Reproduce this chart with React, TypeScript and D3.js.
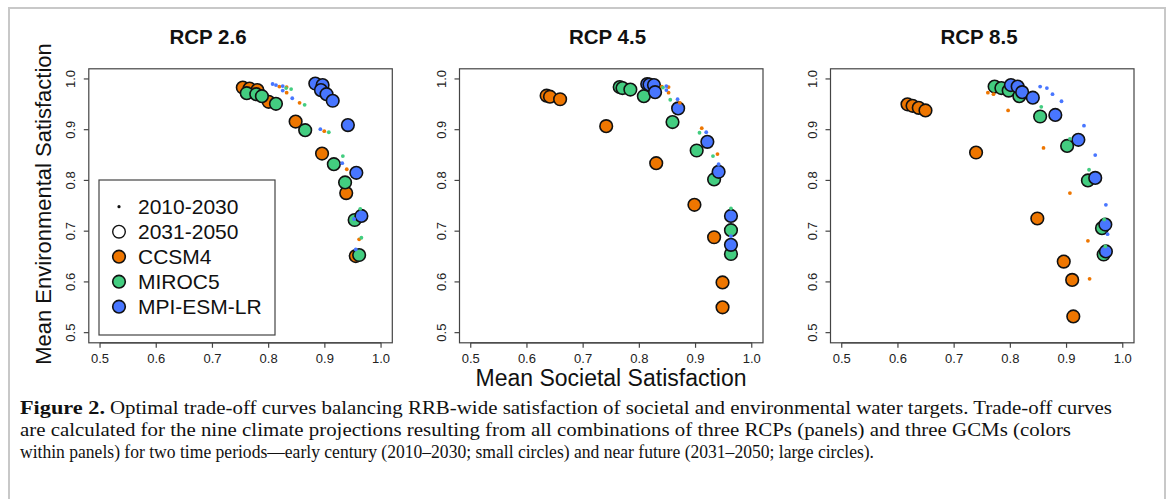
import React from "react";
import * as d3 from "d3";

// ---- Data (societal, environmental) ----
const gcms = ["CCSM4", "MIROC5", "MPI-ESM-LR"];
const periods = ["2010-2030", "2031-2050"];
const panelTitles = ["RCP 2.6", "RCP 4.5", "RCP 8.5"];
const tickValues = [0.5, 0.6, 0.7, 0.8, 0.9, 1.0];

// RCP 2.6
const rcp26_ccsm4_late = [[0.754,0.983],[0.766,0.981],[0.780,0.978],[0.800,0.955],[0.848,0.916],[0.895,0.853],[0.938,0.775],[0.955,0.651]];
const rcp26_miroc5_late = [[0.761,0.972],[0.778,0.970],[0.788,0.966],[0.813,0.951],[0.865,0.899],[0.916,0.832],[0.936,0.796],[0.953,0.722],[0.961,0.653]];
const rcp26_mpi_late = [[0.883,0.991],[0.896,0.988],[0.893,0.978],[0.903,0.970],[0.914,0.957],[0.941,0.909],[0.956,0.815],[0.965,0.730]];
const rcp26_ccsm4_early = [[0.819,0.985],[0.832,0.984],[0.832,0.973],[0.855,0.953],[0.899,0.897],[0.939,0.822],[0.961,0.684]];
const rcp26_miroc5_early = [[0.831,0.982],[0.840,0.980],[0.864,0.949],[0.907,0.895],[0.932,0.848],[0.963,0.744],[0.965,0.687]];
const rcp26_mpi_early = [[0.807,0.990],[0.813,0.988],[0.825,0.986],[0.825,0.977],[0.842,0.962],[0.892,0.901],[0.931,0.834],[0.952,0.724],[0.955,0.664]];

// RCP 4.5
const rcp45_ccsm4_late = [[0.635,0.967],[0.641,0.965],[0.659,0.960],[0.741,0.907],[0.830,0.834],[0.898,0.752],[0.933,0.688],[0.948,0.599],[0.948,0.550]];
const rcp45_miroc5_late = [[0.765,0.984],[0.770,0.982],[0.784,0.979],[0.808,0.966],[0.859,0.915],[0.902,0.859],[0.933,0.802],[0.963,0.702],[0.963,0.655]];
const rcp45_mpi_late = [[0.814,0.990],[0.818,0.989],[0.826,0.988],[0.828,0.974],[0.869,0.942],[0.921,0.876],[0.941,0.817],[0.963,0.730],[0.963,0.673]];
const rcp45_ccsm4_early = [[0.840,0.985],[0.852,0.984],[0.852,0.973],[0.872,0.953],[0.911,0.903],[0.939,0.852]];
const rcp45_miroc5_early = [[0.842,0.983],[0.855,0.959],[0.907,0.894],[0.931,0.848],[0.963,0.745]];
const rcp45_mpi_early = [[0.848,0.986],[0.848,0.978],[0.868,0.960],[0.919,0.895],[0.941,0.832],[0.963,0.690]];

// RCP 8.5
const rcp85_ccsm4_late = [[0.617,0.950],[0.626,0.947],[0.637,0.943],[0.649,0.938],[0.739,0.855],[0.848,0.725],[0.895,0.640],[0.910,0.604],[0.912,0.532]];
const rcp85_miroc5_late = [[0.772,0.985],[0.784,0.982],[0.797,0.977],[0.816,0.966],[0.853,0.926],[0.901,0.868],[0.938,0.800],[0.963,0.706],[0.966,0.654]];
const rcp85_mpi_late = [[0.801,0.988],[0.813,0.985],[0.821,0.974],[0.840,0.963],[0.880,0.929],[0.921,0.880],[0.951,0.805],[0.969,0.713],[0.970,0.660]];
const rcp85_ccsm4_early = [[0.760,0.973],[0.770,0.970],[0.796,0.938],[0.859,0.864],[0.906,0.775],[0.938,0.681],[0.941,0.606]];
const rcp85_miroc5_early = [[0.855,0.945],[0.906,0.882],[0.940,0.821],[0.967,0.723],[0.969,0.670]];
const rcp85_mpi_early = [[0.853,0.985],[0.865,0.982],[0.875,0.970],[0.891,0.956],[0.931,0.908],[0.951,0.850],[0.970,0.752],[0.973,0.694]];

const panelData = [
  { late: [rcp26_ccsm4_late, rcp26_miroc5_late, rcp26_mpi_late], early: [rcp26_ccsm4_early, rcp26_miroc5_early, rcp26_mpi_early] },
  { late: [rcp45_ccsm4_late, rcp45_miroc5_late, rcp45_mpi_late], early: [rcp45_ccsm4_early, rcp45_miroc5_early, rcp45_mpi_early] },
  { late: [rcp85_ccsm4_late, rcp85_miroc5_late, rcp85_mpi_late], early: [rcp85_ccsm4_early, rcp85_miroc5_early, rcp85_mpi_early] },
];

const captionLines = [
  "Optimal trade-off curves balancing RRB-wide satisfaction of societal and environmental water targets. Trade-off curves",
  "are calculated for the nine climate projections resulting from all combinations of three RCPs (panels) and three GCMs (colors",
  "within panels) for two time periods\u2014early century (2010\u20132030; small circles) and near future (2031\u20132050; large circles).",
];

// ---- Styles ----
const colors = ["#EE7600", "#43CD80", "#4876FF"];
const panelLefts = [88.8, 459.5, 830.5];
const panelTitleX = [208, 607.5, 979];
const panelW = 303.5;
const plotTop = 68.8;
const plotBottom = 342.8;
const sans = "Liberation Sans, Arial, Helvetica, sans-serif";
const serif = "Liberation Serif, Times New Roman, serif";
const axisColor = "#444";

function Panel({ idx }: { idx: number }) {
  const left = panelLefts[idx];
  const x = d3.scaleLinear().domain([0.48, 1.02]).range([left, left + panelW]);
  const y = d3.scaleLinear().domain([0.48, 1.02]).range([plotBottom, plotTop]);
  const d = panelData[idx];
  return (
    <g>
      <text x={panelTitleX[idx]} y={44} textAnchor="middle" fontFamily={sans} fontWeight="bold" fontSize={20.5} fill="#111">
        {panelTitles[idx]}
      </text>
      <rect x={left} y={plotTop} width={panelW} height={plotBottom - plotTop} fill="none" stroke={axisColor} strokeWidth={1.2} />
      {/* x axis */}
      <line x1={x(0.5)} x2={x(1.0)} y1={plotBottom} y2={plotBottom} stroke={axisColor} strokeWidth={1.2} />
      {tickValues.map((t) => (
        <g key={"xt" + t}>
          <line x1={x(t)} x2={x(t)} y1={plotBottom} y2={plotBottom + 5} stroke={axisColor} strokeWidth={1.2} />
          <text x={x(t)} y={363} textAnchor="middle" fontFamily={sans} fontSize={13} fill="#222">
            {d3.format(".1f")(t)}
          </text>
        </g>
      ))}
      {/* y axis */}
      {tickValues.map((t) => (
        <g key={"yt" + t}>
          <line x1={left - 5} x2={left} y1={y(t)} y2={y(t)} stroke={axisColor} strokeWidth={1.2} />
          <text
            transform={`translate(${left - 13.5},${y(t)}) rotate(-90)`}
            textAnchor="middle"
            fontFamily={sans}
            fontSize={13}
            fill="#222"
          >
            {d3.format(".1f")(t)}
          </text>
        </g>
      ))}
      {/* large circles (2031-2050) */}
      {d.late.map((pts, gi) =>
        pts.map((p, i) => (
          <circle key={`l${gi}-${i}`} cx={x(p[0])} cy={y(p[1])} r={6.3} fill={colors[gi]} stroke="#111" strokeWidth={1.6} />
        ))
      )}
      {/* small dots (2010-2030) */}
      {d.early.map((pts, gi) =>
        pts.map((p, i) => (
          <circle key={`e${gi}-${i}`} cx={x(p[0])} cy={y(p[1])} r={1.9} fill={colors[gi]} />
        ))
      )}
    </g>
  );
}

function Legend() {
  const lx = 99, ly = 180, lw = 176, lh = 155;
  const rows = [
    { label: periods[0], kind: "small" },
    { label: periods[1], kind: "open" },
    { label: gcms[0], kind: "fill", c: colors[0] },
    { label: gcms[1], kind: "fill", c: colors[1] },
    { label: gcms[2], kind: "fill", c: colors[2] },
  ];
  return (
    <g>
      <rect x={lx} y={ly} width={lw} height={lh} fill="white" stroke={axisColor} strokeWidth={1.2} />
      {rows.map((r, i) => {
        const cy = 206.7 + i * 25;
        return (
          <g key={r.label}>
            {r.kind === "small" && <circle cx={119} cy={cy} r={1.6} fill="#111" />}
            {r.kind === "open" && <circle cx={119} cy={cy} r={6.3} fill="white" stroke="#111" strokeWidth={1.4} />}
            {r.kind === "fill" && <circle cx={119} cy={cy} r={6.3} fill={r.c} stroke="#111" strokeWidth={1.6} />}
            <text x={138} y={cy + 7.5} fontFamily={sans} fontSize={21} fill="#111">
              {r.label}
            </text>
          </g>
        );
      })}
    </g>
  );
}

export default function App() {
  return (
    <svg
      width={1168}
      height={499}
      style={{ position: "absolute", left: 0, top: 0, background: "white" }}
    >
      <rect x={0} y={0} width={1168} height={499} fill="white" />
      <rect x={9} y={8} width={1156} height={520} fill="none" stroke="#c8c8c8" strokeWidth={2} />
      {[0, 1, 2].map((i) => (
        <Panel key={i} idx={i} />
      ))}
      <Legend />
      <text
        transform={`translate(51,204) rotate(-90)`}
        textAnchor="middle"
        fontFamily={sans}
        fontSize={22}
        fill="#111"
      >
        Mean Environmental Satisfaction
      </text>
      <text x={611} y={386} textAnchor="middle" fontFamily={sans} fontSize={23} fill="#111">
        Mean Societal Satisfaction
      </text>
      {/* caption */}
      <text x={20} y={414} fontFamily={serif} fontSize={18} fontWeight="bold" fill="#111" textLength={85} lengthAdjust="spacingAndGlyphs">
        Figure 2.
      </text>
      <text x={110} y={414} fontFamily={serif} fontSize={18} fill="#111" textLength={1002} lengthAdjust="spacingAndGlyphs">
        {captionLines[0]}
      </text>
      <text x={20} y={436} fontFamily={serif} fontSize={18} fill="#111" textLength={1051} lengthAdjust="spacingAndGlyphs">
        {captionLines[1]}
      </text>
      <text x={20} y={458} fontFamily={serif} fontSize={18} fill="#111" textLength={854} lengthAdjust="spacingAndGlyphs">
        {captionLines[2]}
      </text>
    </svg>
  );
}
